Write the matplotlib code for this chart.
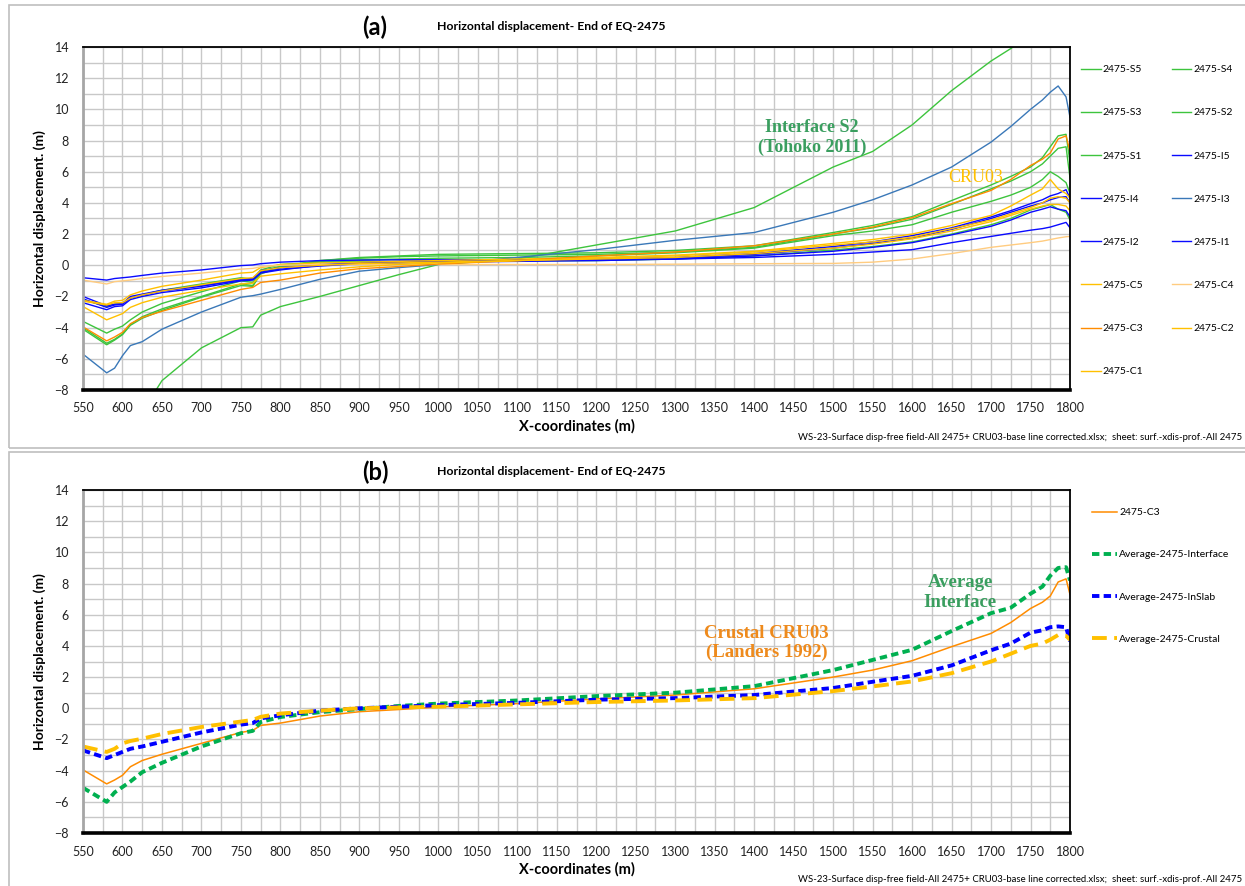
import matplotlib.pyplot as plt
from matplotlib.patches import Rectangle
from matplotlib.ticker import MultipleLocator

plt.rcParams['font.family'] = ['Lato', 'DejaVu Sans']

# x stations (m) shared by all profiles
x_m = [550, 580, 590, 600, 610, 625, 650, 700, 750, 765, 775, 800, 850, 900, 950, 1000,
       1100, 1200, 1300, 1400, 1500, 1550, 1600, 1650, 1700, 1725, 1750, 1765, 1775, 1785, 1795, 1800]

# horizontal displacement (m), interface records
s1 = [-3.6, -4.35, -4.1, -3.9, -3.5, -3.0, -2.45, -1.7, -1.0, -1.1, -0.4, -0.05, 0.25, 0.35, 0.4, 0.45,
      0.5, 0.6, 0.8, 1.1, 1.9, 2.2, 2.6, 3.4, 4.1, 4.5, 5.0, 5.5, 6.0, 5.7, 5.3, 4.6]
s2 = [-11.8, -12.6, -12.0, -11.3, -10.6, -9.4, -7.4, -5.3, -4.0, -3.95, -3.2, -2.65, -2.0, -1.3, -0.6, 0.05,
      0.4, 1.3, 2.2, 3.7, 6.3, 7.3, 9.0, 11.2, 13.1, 13.9, 14.8, 15.4, 15.8, 16.3, 16.8, 17.0]
s3 = [-4.0, -5.0, -4.75, -4.4, -3.8, -3.3, -2.8, -2.0, -1.2, -1.3, -0.5, -0.1, 0.3, 0.45, 0.55, 0.6,
      0.65, 0.7, 0.85, 1.15, 2.0, 2.4, 2.95, 3.9, 4.9, 5.4, 6.0, 6.5, 7.0, 7.5, 7.6, 5.6]
s4 = [-4.1, -5.1, -4.8, -4.45, -3.85, -3.4, -2.9, -2.05, -1.3, -1.35, -0.55, -0.15, 0.3, 0.5, 0.6, 0.7,
      0.75, 0.8, 0.95, 1.25, 2.1, 2.55, 3.12, 4.15, 5.15, 5.7, 6.3, 6.9, 7.6, 8.3, 8.4, 6.6]
s5 = [-2.2, -2.65, -2.5, -2.45, -2.1, -1.9, -1.6, -1.2, -0.8, -0.9, -0.3, 0.05, 0.2, 0.25, 0.25, 0.25,
      0.28, 0.3, 0.4, 0.6, 0.98, 1.2, 1.5, 2.0, 2.6, 3.0, 3.55, 3.75, 3.9, 3.6, 3.4, 2.9]

# in-slab records
i1 = [-0.8, -0.95, -0.85, -0.8, -0.75, -0.65, -0.5, -0.3, -0.02, 0.02, 0.1, 0.2, 0.3, 0.33, 0.35, 0.35,
      0.35, 0.35, 0.4, 0.5, 0.7, 0.85, 1.0, 1.45, 1.85, 2.05, 2.25, 2.35, 2.45, 2.6, 2.75, 2.4]
i2 = [-2.0, -2.6, -2.5, -2.45, -2.0, -1.85, -1.6, -1.3, -0.9, -0.85, -0.35, -0.15, 0.05, 0.15, 0.2, 0.25,
      0.3, 0.35, 0.45, 0.7, 1.1, 1.4, 1.75, 2.3, 3.0, 3.4, 3.8, 4.0, 4.2, 4.35, 4.4, 4.0]
i3 = [-5.7, -6.9, -6.6, -5.8, -5.15, -4.9, -4.1, -3.0, -2.05, -1.95, -1.85, -1.55, -0.9, -0.38, -0.15, 0.05,
      0.5, 1.0, 1.6, 2.1, 3.4, 4.2, 5.15, 6.3, 7.9, 8.9, 10.0, 10.6, 11.1, 11.5, 10.8, 9.5]
i4 = [-2.15, -2.7, -2.55, -2.5, -2.1, -1.9, -1.65, -1.35, -0.95, -0.9, -0.45, -0.25, -0.05, 0.1, 0.15, 0.2,
      0.25, 0.3, 0.4, 0.6, 0.9, 1.15, 1.45, 1.95, 2.5, 2.9, 3.4, 3.6, 3.75, 3.6, 3.5, 3.1]
i5 = [-2.4, -2.85, -2.65, -2.6, -2.2, -2.0, -1.75, -1.45, -1.0, -0.95, -0.5, -0.3, 0.0, 0.15, 0.25, 0.3,
      0.35, 0.4, 0.5, 0.75, 1.2, 1.5, 1.9, 2.4, 3.1, 3.5, 3.95, 4.2, 4.45, 4.6, 4.85, 4.3]

# crustal records
c1 = [-2.3, -2.55, -2.4, -2.4, -2.1, -1.9, -1.65, -1.25, -0.85, -0.8, -0.35, -0.15, 0.0, 0.1, 0.15, 0.2,
      0.3, 0.4, 0.5, 0.75, 1.1, 1.35, 1.7, 2.2, 2.8, 3.2, 3.6, 3.8, 3.9, 3.9, 3.8, 3.5]
c2 = [-2.65, -3.5, -3.3, -3.1, -2.7, -2.4, -2.05, -1.6, -1.2, -1.15, -0.7, -0.55, -0.3, -0.1, 0.05, 0.15,
      0.3, 0.45, 0.6, 0.85, 1.3, 1.5, 1.8, 2.35, 2.9, 3.3, 3.7, 4.0, 4.3, 4.4, 4.3, 4.0]
c3 = [-3.95, -4.85, -4.6, -4.3, -3.75, -3.35, -2.95, -2.25, -1.55, -1.42, -1.1, -0.95, -0.5, -0.22, -0.08, 0.08,
      0.3, 0.6, 0.85, 1.25, 2.0, 2.45, 3.05, 3.95, 4.8, 5.5, 6.4, 6.8, 7.2, 8.1, 8.3, 7.3]
c4 = [-0.95, -1.2, -1.05, -1.0, -0.95, -0.85, -0.72, -0.5, -0.25, -0.2, -0.1, 0.0, 0.05, 0.05, 0.05, 0.05,
      0.05, 0.05, 0.07, 0.1, 0.12, 0.2, 0.4, 0.75, 1.15, 1.3, 1.45, 1.55, 1.65, 1.75, 1.83, 1.85]
c5 = [-2.25, -2.5, -2.3, -2.25, -1.9, -1.65, -1.35, -0.95, -0.5, -0.45, -0.15, 0.05, 0.15, 0.2, 0.25, 0.3,
      0.4, 0.5, 0.65, 0.9, 1.4, 1.65, 2.0, 2.55, 3.2, 3.8, 4.5, 4.9, 5.5, 4.9, 4.6, 4.3]

# group averages
avg_interface = [-5.1, -6.0, -5.4, -5.05, -4.7, -4.1, -3.5, -2.45, -1.6, -1.45, -0.88, -0.56, -0.25, -0.05, 0.15, 0.3,
                 0.5, 0.78, 1.0, 1.42, 2.45, 3.1, 3.75, 4.95, 6.1, 6.45, 7.35, 7.8, 8.5, 9.0, 9.05, 8.2]
avg_inslab = [-2.7, -3.2, -3.0, -2.8, -2.6, -2.45, -2.15, -1.55, -1.05, -0.95, -0.65, -0.45, -0.15, 0.0, 0.1, 0.2,
              0.35, 0.55, 0.65, 0.85, 1.3, 1.7, 2.08, 2.75, 3.72, 4.15, 4.85, 5.0, 5.2, 5.25, 5.2, 4.3]
avg_crustal = [-2.45, -2.8, -2.6, -2.25, -2.1, -1.95, -1.65, -1.2, -0.85, -0.75, -0.55, -0.34, -0.15, 0.0, 0.05, 0.1,
               0.25, 0.4, 0.5, 0.65, 1.1, 1.4, 1.72, 2.25, 3.0, 3.5, 4.0, 4.15, 4.4, 4.7, 4.65, 4.4]

green = '#3DC43D'
blue = '#0A0AFF'
gold = '#FFC000'

series_a = [
    ('2475-S5', s5, green), ('2475-S4', s4, green), ('2475-S3', s3, green),
    ('2475-S2', s2, green), ('2475-S1', s1, green), ('2475-I5', i5, blue),
    ('2475-I4', i4, blue), ('2475-I3', i3, '#3A78B8'), ('2475-I2', i2, blue),
    ('2475-I1', i1, blue), ('2475-C5', c5, gold), ('2475-C4', c4, '#FFCC80'),
    ('2475-C3', c3, '#FF8C00'), ('2475-C2', c2, gold), ('2475-C1', c1, gold),
]

W, H = 1245, 886
fig = plt.figure(figsize=(W / 100, H / 100), dpi=100)


def px(x, y):
    return x / W, 1 - y / H


def setup(ax):
    ax.set_xlim(550, 1800)
    ax.set_ylim(-8, 14)
    ax.xaxis.set_major_locator(MultipleLocator(50))
    ax.xaxis.set_minor_locator(MultipleLocator(25))
    ax.yaxis.set_major_locator(MultipleLocator(2))
    ax.yaxis.set_minor_locator(MultipleLocator(1))
    ax.grid(which='both', color='#C8C8C8', lw=1.0)
    ax.set_axisbelow(True)
    ax.tick_params(which='both', length=0, labelsize=9, colors='#222222')
    ax.tick_params(axis='x', pad=9)
    ax.tick_params(axis='y', pad=10)
    for side in ('top', 'right'):
        ax.spines[side].set_color('black')
        ax.spines[side].set_linewidth(1.3)
    ax.spines['bottom'].set_color('black')
    ax.spines['bottom'].set_linewidth(2.6)
    ax.spines['left'].set_color('#A6A6A6')
    ax.spines['left'].set_linewidth(2.0)


def panel_text(tag, ytop, ybox_top, ybox_bottom):
    fig.patches.append(Rectangle(px(9, ybox_bottom), 1.0, (ybox_bottom - ybox_top) / H,
                                 transform=fig.transFigure, fill=False,
                                 edgecolor='#BFBFBF', lw=1.2))
    fig.text(*px(375, ytop), tag, ha='center', va='center', fontsize=17, fontweight='bold')
    fig.text(*px(437, ytop), 'Horizontal displacement- End of EQ-2475',
             ha='left', va='center', fontsize=8.8, fontweight='bold')


ax_a = fig.add_axes([83 / W, 1 - 390 / H, 987 / W, 343 / H])
ax_b = fig.add_axes([83 / W, 1 - 833 / H, 987 / W, 343 / H])

for ax, yc in ((ax_a, 219), (ax_b, 662)):
    setup(ax)
    ax.set_xlabel('X-coordinates (m)', fontsize=10.5, fontweight='bold', labelpad=3)
    fig.text(*px(40, yc), 'Horizontal displacement. (m)', rotation=90,
             ha='center', va='center', fontsize=10, fontweight='bold')

# (a) all records
lines = {}
for name, vals, col in series_a:
    lines[name], = ax_a.plot(x_m, vals, color=col, lw=1.0, label=name)

order = ['2475-S5', '2475-S3', '2475-S1', '2475-I4', '2475-I2', '2475-C5', '2475-C3', '2475-C1',
         '2475-S4', '2475-S2', '2475-I5', '2475-I3', '2475-I1', '2475-C4', '2475-C2']
ax_a.legend([lines[n] for n in order], order, ncol=2, frameon=False,
            loc='upper left', bbox_to_anchor=px(1081, 65), bbox_transform=fig.transFigure,
            fontsize=7.5, handlelength=1.9, handletextpad=0.2, columnspacing=2.7,
            labelspacing=3.25, borderpad=0, borderaxespad=0)

ax_a.text(1473, 8.2, 'Interface S2\n(Tohoko 2011)', ha='center', va='center',
          family='Liberation Serif', fontweight='bold', fontsize=13,
          color='#3A9E5F', linespacing=1.15)
ax_a.text(1680, 5.6, 'CRU03', ha='center', va='center',
          family='Liberation Serif', fontsize=13, color=gold)

# (b) crustal record against group averages
ax_b.plot(x_m, c3, color='#FF8C00', lw=1.1, label='2475-C3')
ax_b.plot(x_m, avg_interface, color='#00B050', lw=2.8, dashes=(1.9, 1.1),
          label='Average-2475-Interface')
ax_b.plot(x_m, avg_inslab, color='#0000FF', lw=2.8, dashes=(1.9, 1.1),
          label='Average-2475-InSlab')
ax_b.plot(x_m, avg_crustal, color=gold, lw=2.8, dashes=(3.8, 1.9),
          label='Average-2475-Crustal')
ax_b.legend(frameon=False, loc='upper left', bbox_to_anchor=px(1092, 508),
            bbox_transform=fig.transFigure, fontsize=7.5, handlelength=2.4,
            handletextpad=0.2, labelspacing=3.15, borderpad=0, borderaxespad=0)

ax_b.text(1416, 4.17, 'Crustal CRU03\n(Landers 1992)', ha='center', va='center',
          family='Liberation Serif', fontweight='bold', fontsize=13.5,
          color='#EE8A1C', linespacing=1.15)
ax_b.text(1661, 7.44, 'Average\nInterface', ha='center', va='center',
          family='Liberation Serif', fontweight='bold', fontsize=13.5,
          color='#3A9E5F', linespacing=1.2)

panel_text('(a)', 27, 5, 448)
panel_text('(b)', 472, 452, 892)

footer = ('WS-23-Surface disp-free field-All 2475+ CRU03-base line corrected.xlsx;  '
          'sheet: surf.-xdis-prof.-All 2475')
for yf in (437, 880):
    fig.text(*px(1242, yf), footer, ha='right', va='center', fontsize=6.9)

fig.savefig('out.png', dpi=100)
